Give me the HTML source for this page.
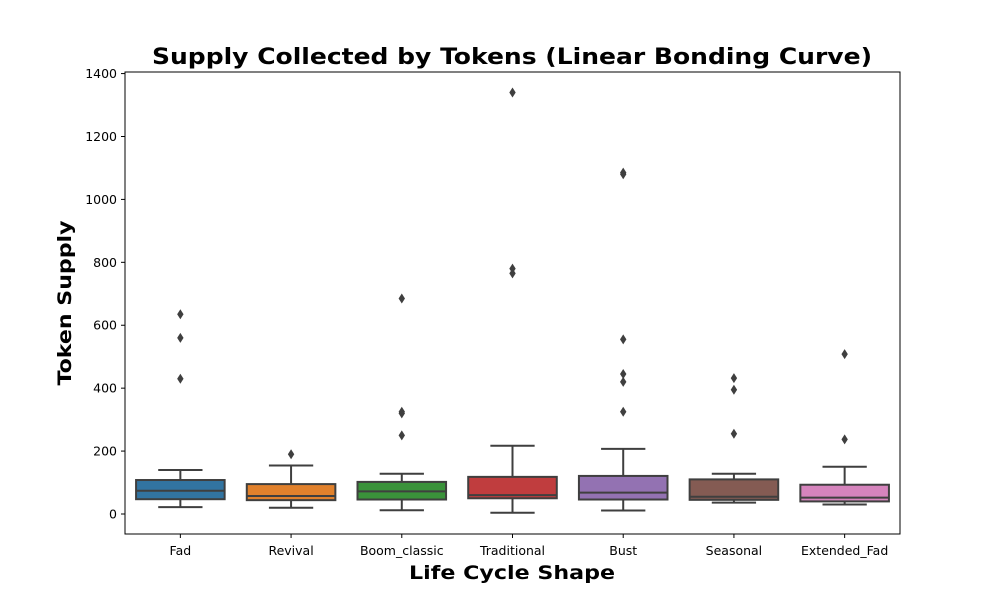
<!DOCTYPE html>
<html><head><meta charset="utf-8"><style>body{margin:0;background:#fff}svg{display:block;font-family:"DejaVu Sans","Liberation Sans",sans-serif}</style></head>
<body>
<svg id="chart" width="1000" height="600">
<rect width="1000" height="600" fill="#fff"/>
<text x="512" y="64" text-anchor="middle" font-size="22" font-weight="bold" textLength="720" lengthAdjust="spacingAndGlyphs">Supply Collected by Tokens (Linear Bonding Curve)</text>
<text x="512" y="579" text-anchor="middle" font-size="19" font-weight="bold" textLength="206" lengthAdjust="spacingAndGlyphs">Life Cycle Shape</text>
<text transform="translate(71,303) rotate(-90)" text-anchor="middle" font-size="19" font-weight="bold" textLength="165" lengthAdjust="spacingAndGlyphs">Token Supply</text>
<g id="marks"></g>
<rect x="125" y="72" width="775" height="462" fill="none" stroke="#000" stroke-width="1"/>
</svg>
<script>
const categories=["Fad","Revival","Boom_classic","Traditional","Bust","Seasonal","Extended_Fad"];
const whiskerLow=[22,20,12,4,11,36,30];
const q1=[47,44,46,50,46,45,40];
const median=[74,57,72,60,68,55,52];
const q3=[108,95,102,118,121,110,93];
const whiskerHigh=[140,154,128,217,207,128,150];
const outliers=[[430,560,635],[190],[250,320,325,685],[765,780,1340],[325,420,445,555,1080,1085],[255,395,432],[237,508]];
const colors=["#3274a1","#e1812c","#3a923a","#c03d3e","#9372b2","#845b53","#d684bd"];
const yTicks=[0,200,400,600,800,1000,1200,1400];
const X0=125,W=775,T=72,B=534,YMIN=-63.6,YMAX=1405;
const y=v=>B-(v-YMIN)/(YMAX-YMIN)*(B-T);
const band=W/categories.length;
const x=i=>X0+(i+0.5)*band;
const NS="http://www.w3.org/2000/svg";
const g=document.getElementById('marks');
function el(t,a){const e=document.createElementNS(NS,t);for(const k in a)e.setAttribute(k,a[k]);g.appendChild(e);return e;}
const LC="#3f3f3f";
yTicks.forEach(v=>{
 const t=el('line',{x1:X0-4,x2:X0,y1:y(v),y2:y(v),stroke:'#000'});
 
 
 const l=el('text',{x:X0-8,y:y(v)+4.5,'text-anchor':'end','font-size':'12.5'});
 l.textContent=v;
 
 
});
categories.forEach((c,i)=>{
 const cx=x(i),bw=band*0.8,cw=bw/2;
 const t=el('line',{x1:cx,x2:cx,y1:B,y2:B+4,stroke:'#000'});
 
 
 const l=el('text',{x:cx,y:B+21,'text-anchor':'middle','font-size':'12.5'});
 l.textContent=c;
 
 
 const w1=el('line',{x1:cx,x2:cx,y1:y(whiskerHigh[i]),y2:y(q3[i]),stroke:LC,'stroke-width':2});
 
 
 const w2=el('line',{x1:cx,x2:cx,y1:y(q1[i]),y2:y(whiskerLow[i]),stroke:LC,'stroke-width':2});
 
 
 [whiskerHigh[i],whiskerLow[i]].forEach(v=>{
  const c2=el('line',{x1:cx-cw/2,x2:cx+cw/2,y1:y(v),y2:y(v),stroke:LC,'stroke-width':2});
  
  
 });
 const r=el('rect',{x:cx-bw/2,y:y(q3[i]),width:bw,height:y(q1[i])-y(q3[i]),fill:colors[i],stroke:LC,'stroke-width':2});
 
 
 const m=el('line',{x1:cx-bw/2,x2:cx+bw/2,y1:y(median[i]),y2:y(median[i]),stroke:LC,'stroke-width':2});
 
 
 outliers[i].forEach(v=>{
  const py=y(v);
  const o=el('path',{d:`M${cx} ${py-5}L${cx+3.2} ${py}L${cx} ${py+5}L${cx-3.2} ${py}Z`,fill:LC});
  
  
 });
});
</script>
</body></html>
